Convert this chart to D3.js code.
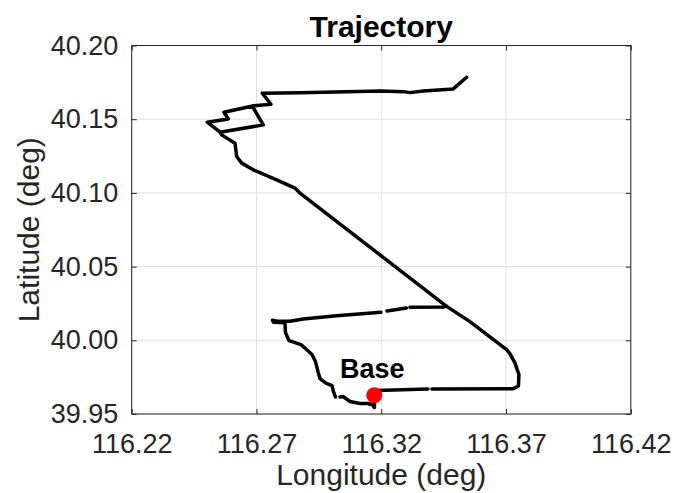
<!DOCTYPE html>
<html><head><meta charset="utf-8">
<script src="https://cdn.jsdelivr.net/npm/d3@7"></script>
<style>
body{margin:0;background:#fff}
svg{display:block}
text{font-family:"Liberation Sans",Arial,Helvetica,sans-serif}
</style>
</head><body>
<svg id="chart" width="690" height="493"></svg>
<script>
// ---- data ----
const chartTitle = "Trajectory";
const xLabel = "Longitude (deg)";
const yLabel = "Latitude (deg)";
const xTicks = [116.22, 116.27, 116.32, 116.37, 116.42];
const yTicks = [39.95, 40.00, 40.05, 40.10, 40.15, 40.20];

// GPS track (null = data gap / break)
const trackLon = [
  116.31788, 116.33871, null, 116.34031, 116.37276, 116.37497, 116.37517, 116.37357, 116.37156,
  116.37024, 116.35554, 116.34620, 116.28743, 116.28542, 116.27809, 116.26872, 116.26407,
  116.26207, 116.26139, 116.25606, 116.25538, 116.25029, 116.25870, 116.25698, 116.26848,
  116.27581, 116.27232, 116.28743, 116.31988, 116.32881, 116.33150, 116.33683, 116.34885, 116.35421,
  null,
  116.26848, 116.26920, 116.27272, 116.25538,
  null,
  116.34620, 116.34484, 116.33150, null, 116.33010, 116.32228, null, 116.31988, 116.30213,
  116.28875, 116.28342, 116.27821, 116.27641, 116.27681, 116.28142, 116.28162, 116.28302, 116.28783,
  116.28943, 116.29224, 116.29364, 116.29464, 116.29544, 116.29784, 116.30025, 116.30085,
  116.30165, null, 116.30345, 116.30466, 116.30746, 116.31147, 116.31467, 116.31668, 116.31728, 116.31728
];
const trackLat = [
  39.96592, 39.96694, null, 39.96694, 39.96707, 39.96897, 39.97676, 39.98469, 39.99099,
  39.99370, 40.01267, 40.02304, 40.09986, 40.10325, 40.10888, 40.11565, 40.12019,
  40.12466, 40.13374, 40.13936, 40.14119, 40.14797, 40.15020, 40.15474, 40.15901,
  40.16016, 40.16762, 40.16802, 40.16917, 40.16870, 40.16802, 40.16917, 40.17053, 40.17846,
  null,
  40.15901, 40.15630, 40.14614, 40.14119,
  null,
  40.02304, 40.02263, 40.02249, null, 40.02195, 40.01992, null, 40.01911, 40.01673,
  40.01450, 40.01287, 40.01287, 40.01355, 40.01220, 40.01199, 40.00522, 39.99980, 39.99709,
  39.99472, 39.99031, 39.98557, 39.97880, 39.97405, 39.97100, 39.96931, 39.96524,
  39.96152, null, 39.96152, 39.96185, 39.95847, 39.95711, 39.95711, 39.95610, 39.95440, 39.96253
];

const baseLon = [116.31720];
const baseLat = [39.96274];
const baseName = ["Base"];

// ---- layout ----
const svg = d3.select("#chart");
const L = 131.7, R = 630.8, T = 45.5, B = 414;
const x = d3.scaleLinear().domain([116.22, 116.42]).range([L, R]);
const y = d3.scaleLinear().domain([39.95, 40.20]).range([B, T]);
const axisColor = "#262626";
const fmt = d3.format(".2f");

// grid
const grid = svg.append("g").attr("stroke", "#e1e1e1").attr("stroke-width", 1);
grid.selectAll("line.gx").data(xTicks).join("line")
  .attr("x1", d => x(d)).attr("x2", d => x(d)).attr("y1", T).attr("y2", B);
grid.selectAll("line.gy").data(yTicks).join("line")
  .attr("y1", d => y(d)).attr("y2", d => y(d)).attr("x1", L).attr("x2", R);

// axes
function styleAxis(g, labels) {
  g.select(".domain").remove();
  g.selectAll(".tick line").attr("stroke", axisColor).attr("stroke-width", 1);
  g.selectAll(".tick text").attr("fill", axisColor).attr("font-size", 27);
  if (!labels) g.selectAll(".tick text").remove();
}
svg.append("g").attr("transform", `translate(0,${B})`)
  .call(d3.axisBottom(x).tickValues(xTicks).tickFormat(fmt).tickSize(-5).tickPadding(19.8))
  .call(g => styleAxis(g, true));
svg.append("g").attr("transform", `translate(0,${T})`)
  .call(d3.axisTop(x).tickValues(xTicks).tickSize(-5))
  .call(g => styleAxis(g, false));
svg.append("g").attr("transform", `translate(${L},0)`)
  .call(d3.axisLeft(y).tickValues(yTicks).tickFormat(fmt).tickSize(-5).tickPadding(13.4))
  .call(g => styleAxis(g, true));
svg.append("g").attr("transform", `translate(${R},0)`)
  .call(d3.axisRight(y).tickValues(yTicks).tickSize(-5))
  .call(g => styleAxis(g, false));
svg.selectAll(".tick text").attr("font-family", '"Liberation Sans",Arial,sans-serif');

// box
svg.append("rect").attr("x", L).attr("y", T).attr("width", R - L).attr("height", B - T)
  .attr("fill", "none").attr("stroke", axisColor).attr("stroke-width", 1);

// track
const pts = trackLon.map((v, i) => ({lon: v, lat: trackLat[i]}));
const line = d3.line().defined(d => d.lon !== null && d.lat !== null)
  .x(d => x(d.lon)).y(d => y(d.lat));
svg.append("path").datum(pts).attr("d", line)
  .attr("fill", "none").attr("stroke", "#000").attr("stroke-width", 3.5)
  .attr("stroke-linejoin", "round").attr("stroke-linecap", "round");

// base marker
const base = baseLon.map((v, i) => ({lon: v, lat: baseLat[i], name: baseName[i]}));
svg.selectAll("circle.base").data(base).join("circle")
  .attr("cx", d => x(d.lon)).attr("cy", d => y(d.lat)).attr("r", 8).attr("fill", "#ff0000");
svg.selectAll("text.base").data(base).join("text")
  .attr("x", d => x(d.lon) - 2).attr("y", d => y(d.lat) - 17)
  .attr("text-anchor", "middle").attr("font-size", 27).attr("font-weight", "bold")
  .attr("fill", "#000").text(d => d.name);

// titles
svg.append("text").attr("x", (L + R) / 2).attr("y", 37).attr("text-anchor", "middle")
  .attr("font-size", 30).attr("font-weight", "bold").attr("fill", "#000").text(chartTitle);
svg.append("text").attr("x", (L + R) / 2).attr("y", 485).attr("text-anchor", "middle")
  .attr("font-size", 30).attr("fill", axisColor).text(xLabel);
svg.append("text").attr("transform", `translate(38.5,${(T + B) / 2}) rotate(-90)`)
  .attr("text-anchor", "middle").attr("font-size", 30).attr("fill", axisColor).text(yLabel);
</script>
</body></html>
